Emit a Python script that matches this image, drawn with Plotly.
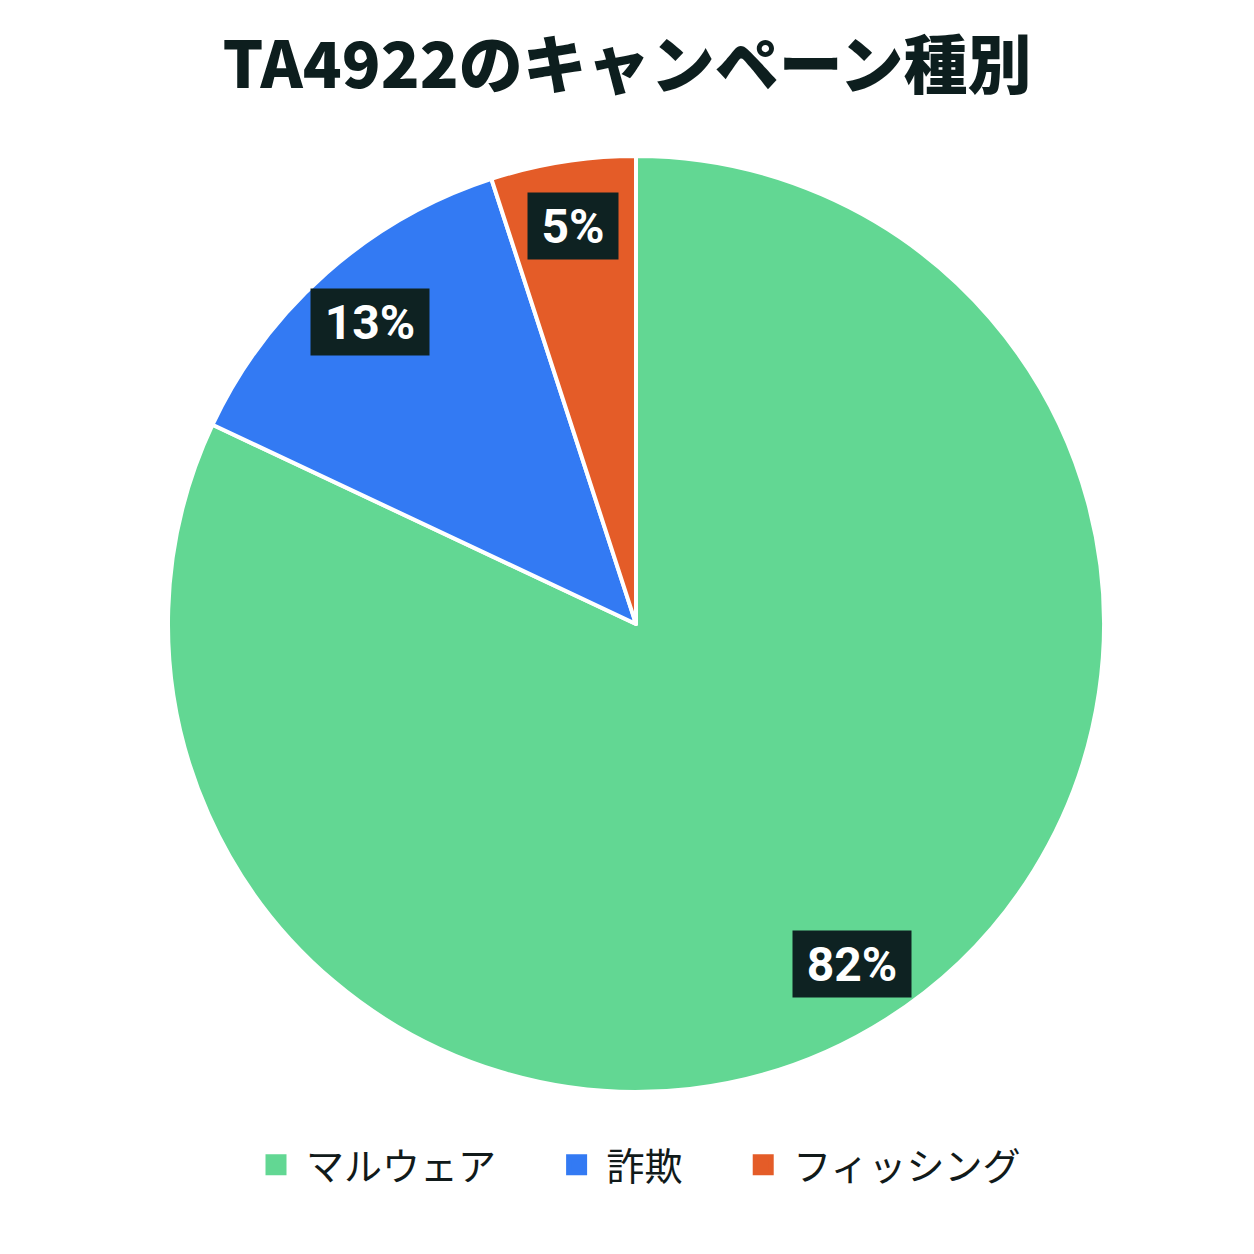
import math
import plotly.graph_objects as go

categories = ["マルウェア", "詐欺", "フィッシング"]
values = [82, 13, 5]
colors = ["#62D793", "#337AF3", "#E45C28"]
title_text = "TA4922のキャンペーン種別"

total = sum(values)
fig = go.Figure(go.Pie(
    labels=categories,
    values=values,
    marker=dict(colors=colors, line=dict(color="white", width=4)),
    sort=False,
    direction="clockwise",
    rotation=0,
    textinfo="none",
    hoverinfo="label+percent",
    domain=dict(x=[0, 1], y=[0, 1]),
    showlegend=False,
))

# legend entries (larger square swatches than the pie legend allows)
ITEM_GAP = "\u2003\u2009"
for i, (name, col) in enumerate(zip(categories, colors)):
    label = name + (ITEM_GAP if i < len(categories) - 1 else "")
    fig.add_trace(go.Scatter(
        x=[None], y=[None], mode="markers", name=label,
        marker=dict(symbol="square", size=16, color=col, line=dict(color=col, width=5)),
        showlegend=True, hoverinfo="skip",
    ))

# percentage labels with dark boxes, placed at slice mid-angles
cum = 0
for v in values:
    mid = (cum + v / 2) / total * 2 * math.pi
    cum += v
    r = 0.43
    txt = f"{v / total * 100:.0f}%"
    fig.add_annotation(
        x=0.5 + r * math.sin(mid), y=0.5 + r * math.cos(mid),
        xref="paper", yref="paper", xanchor="center", yanchor="middle",
        text=txt,
        showarrow=False,
        font=dict(family="Roboto, 'Noto Sans', sans-serif", size=48, color="white", weight="bold"),
        bgcolor="#0E2222",
        width=28 * len(txt) + 30, height=62,
        borderpad=2,
    )

fig.update_layout(
    width=1254, height=1254,
    paper_bgcolor="white", plot_bgcolor="white",
    margin=dict(l=168, r=150, t=156, b=162),
    xaxis=dict(visible=False), yaxis=dict(visible=False),
    title=dict(
        text=title_text, x=0.5, xanchor="center", y=1 - 66 / 1254, yanchor="middle",
        font=dict(family="'Noto Sans CJK JP', sans-serif", size=64, color="#0D1E1E", weight=900),
    ),
    showlegend=True,
    legend=dict(
        orientation="h", x=0.5, xanchor="center", y=-0.078, yanchor="middle",
        font=dict(family="'Noto Sans CJK JP', sans-serif", size=38, color="#111A1A"),
        itemwidth=50, traceorder="normal",
    ),
)

fig.write_html("out.html")
